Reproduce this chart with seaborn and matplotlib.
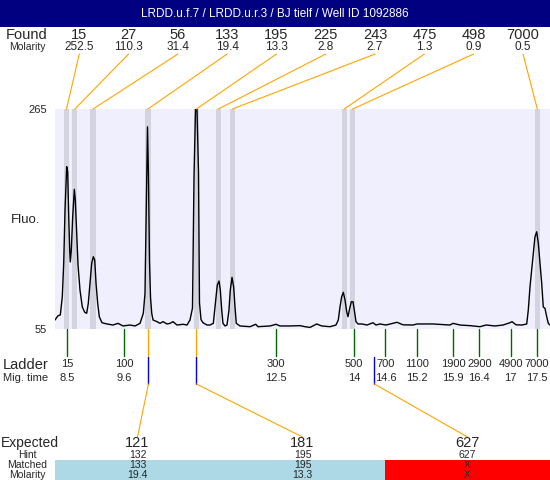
import matplotlib
matplotlib.use("Agg")
import matplotlib.pyplot as plt
from matplotlib.patches import Rectangle
import seaborn as sns

sns.set_style("white")
plt.rcParams['font.family'] = ['Liberation Sans', 'DejaVu Sans']

title = "LRDD.u.f.7 / LRDD.u.r.3 / BJ tielf / Well ID 1092886"

# found peaks (size, molarity, migration time)
found_size = ["15", "27", "56", "133", "195", "225", "243", "475", "498", "7000"]
found_molarity = ["252.5", "110.3", "31.4", "19.4", "13.3", "2.8", "2.7", "1.3", "0.9", "0.5"]
found_time = [8.49, 8.65, 9.00, 10.05, 10.98, 11.40, 11.67, 13.81, 13.97, 17.51]

# ladder
ladder_size = ["15", "100", "300", "500", "700", "1100", "1900", "2900", "4900", "7000"]
ladder_time = [8.5, 9.6, 12.5, 14, 14.6, 15.2, 15.9, 16.4, 17, 17.5]

# expected fragments
expected = ["121", "181", "627"]
hint = ["132", "195", "627"]
matched = ["133", "195", "X"]
matched_molarity = ["19.4", "13.3", "X"]
expected_time = [10.06, 10.98, 14.39]
matched_ok = [True, True, False]

# electropherogram trace
trace_time = [8.270, 8.328, 8.372, 8.410, 8.437, 8.462, 8.494, 8.513, 8.533, 8.552,
              8.563, 8.582, 8.609, 8.640, 8.659, 8.686, 8.711, 8.749, 8.793, 8.839,
              8.877, 8.908, 8.941, 8.973, 9.004, 9.031, 9.056, 9.088, 9.119, 9.170,
              9.266, 9.381, 9.477, 9.573, 9.707, 9.803, 9.899, 9.962, 9.994, 10.019,
              10.042, 10.061, 10.080, 10.100, 10.123, 10.148, 10.224, 10.282, 10.339, 10.416,
              10.473, 10.531, 10.607, 10.722, 10.799, 10.856, 10.904, 10.933, 10.962, 10.990,
              11.019, 11.038, 11.067, 11.105, 11.182, 11.239, 11.303, 11.349, 11.379, 11.412,
              11.437, 11.464, 11.488, 11.527, 11.565, 11.603, 11.628, 11.661, 11.693, 11.718,
              11.743, 11.814, 12.006, 12.115, 12.159, 12.389, 12.504, 12.580, 12.772, 12.964,
              13.059, 13.155, 13.283, 13.379, 13.538, 13.653, 13.697, 13.730, 13.762, 13.793,
              13.826, 13.858, 13.883, 13.916, 13.946, 13.979, 14.004, 14.036, 14.075, 14.151,
              14.247, 14.362, 14.420, 14.496, 14.611, 14.822, 14.937, 15.128, 15.205, 15.511,
              15.837, 15.895, 16.029, 16.220, 16.412, 16.527, 16.699, 16.852, 16.987, 17.025,
              17.102, 17.216, 17.307, 17.337, 17.370, 17.402, 17.433, 17.465, 17.498, 17.529,
              17.561, 17.594, 17.624, 17.657, 17.690, 17.720, 17.753]
trace_fluo = [63.6, 67.7, 68.4, 85.8, 118, 168.5, 209.9, 205, 162, 130,
              119, 130, 162, 188.3, 178, 146.6, 116, 92, 76, 71,
              70, 79.5, 98.6, 117.7, 124, 120.8, 98.6, 79.5, 66.7, 61,
              59.8, 58.8, 60.4, 57.9, 58.8, 57.9, 60.4, 70, 89, 170,
              248, 200, 120, 85, 70, 63.6, 62, 60.4, 62, 59.8,
              60.4, 62, 58.8, 59.5, 58.8, 63.6, 75, 200, 265, 265,
              205, 80, 64, 61, 58.8, 58.8, 60.4, 82.7, 97, 100.8,
              92, 73, 60.4, 57.9, 58.8, 73, 92, 104.3, 95, 76,
              60.4, 57.9, 57.2, 59.5, 57.2, 57.9, 59.5, 57.9, 57.9, 58.2,
              57.2, 56.5, 59.8, 57.9, 57.2, 58.8, 63.6, 76, 85.8, 90,
              82.7, 71.5, 66.7, 74.7, 81, 81, 73, 62, 59.8, 59.8,
              58.8, 61, 58.8, 59.8, 58.8, 61.4, 59, 58.8, 59.8, 59.8,
              58.8, 60.4, 58.8, 58.2, 57.2, 58.8, 57.9, 58.8, 61, 62,
              59, 58.8, 59.8, 73, 95.4, 111.3, 127.2, 143, 147.8, 136.8,
              117.7, 98.6, 76, 74.7, 66.7, 60.4, 58.8]
assert len(trace_time) == len(trace_fluo)

ORANGE = "#FFA500"
GREEN = "#006600"
BLUE = "#0000FF"

W, H = 550, 480
fig = plt.figure(figsize=(W / 100, H / 100), dpi=100)
fig.patch.set_facecolor("white")

# main trace axes (pixel box 55..550 x 109..329)
ax = fig.add_axes([55 / W, (H - 329) / H, 495 / W, 220 / H])
ax.set_facecolor("#EFEFFD")
for t in found_time:
    ax.axvspan(t - 0.05, t + 0.05, color="#D4D4E0", lw=0)
sns.lineplot(x=trace_time, y=trace_fluo, ax=ax, color="black", linewidth=1,
             estimator=None, sort=False)
ax.set_xlim(8.27, 17.753)
ax.set_ylim(55, 265)
ax.set_xticks([])
ax.set_yticks([55, 265])
ax.tick_params(axis="y", length=0, pad=6, labelsize=8)
ax.set_xlabel("")
ax.set_ylabel("")
for s in ax.spines.values():
    s.set_visible(False)

# overlay in pixel coordinates for annotations
ov = fig.add_axes([0, 0, 1, 1], zorder=5)
ov.set_xlim(0, W)
ov.set_ylim(H, 0)
ov.axis("off")
ov.patch.set_alpha(0)


def to_px(t):
    disp = ax.transData.transform((t, 55))
    return ov.transData.inverted().transform(disp)[0]


# title bar
ov.add_patch(Rectangle((0, 0), W, 27, color="#000080", lw=0))
ov.text(W / 2, 14, title, color="white", fontsize=8.5, ha="center", va="center")

# found row
ov.text(27, 35, "Found", fontsize=10.5, ha="center", va="center")
ov.text(27, 47, "Molarity", fontsize=7.5, ha="center", va="center")
for i, (s, m, t) in enumerate(zip(found_size, found_molarity, found_time)):
    cx = 79.3 + 49.3 * i
    ov.text(cx, 35, s, fontsize=10.5, ha="center", va="center")
    ov.text(cx, 47, m, fontsize=8.5, ha="center", va="center")
    ov.plot([cx, to_px(t)], [54, 109], color=ORANGE, lw=0.8)

ov.text(26, 220, "Fluo.", fontsize=9.5, ha="center", va="center")

# ladder row
ov.text(26, 365, "Ladder", fontsize=10.5, ha="center", va="center")
ov.text(26, 378, "Mig. time", fontsize=8, ha="center", va="center")
for s, t in zip(ladder_size, ladder_time):
    x = to_px(t)
    ov.plot([x, x], [329, 356], color=GREEN, lw=1)
    ov.text(x, 364, s, fontsize=8, ha="center", va="center")
    ov.text(x, 378, f"{t:g}", fontsize=8, ha="center", va="center")

# expected markers and links
for i, (t, ok) in enumerate(zip(expected_time, matched_ok)):
    x = to_px(t)
    cx = 55 + 165 * i + 82.5
    if ok:
        ov.plot([x, x], [329, 357], color=ORANGE, lw=1)
    ov.plot([x, x], [357, 384], color=BLUE, lw=1)
    ov.plot([x, cx], [384, 437], color=ORANGE, lw=0.8)

# expected table
ov.text(0.5, 443, "Expected", fontsize=10, ha="left", va="center")
ov.text(27, 455, "Hint", fontsize=7.5, ha="center", va="center")
ov.text(27, 465.5, "Matched", fontsize=7.5, ha="center", va="center")
ov.text(27, 475.5, "Molarity", fontsize=7.5, ha="center", va="center")
for i in range(len(expected)):
    x0 = 55 + 165 * i
    cx = x0 + 82.5
    ov.add_patch(Rectangle((x0, 460), 165, 20, lw=0,
                           color="#ADD8E6" if matched_ok[i] else "#FF0000"))
    ov.text(cx, 443, expected[i], fontsize=10.5, ha="center", va="center")
    ov.text(cx, 455, hint[i], fontsize=7.5, ha="center", va="center")
    ov.text(cx, 465.5, matched[i], fontsize=7.5, ha="center", va="center")
    ov.text(cx, 475.5, matched_molarity[i], fontsize=7.5, ha="center", va="center")

fig.savefig("out.png", dpi=100)
